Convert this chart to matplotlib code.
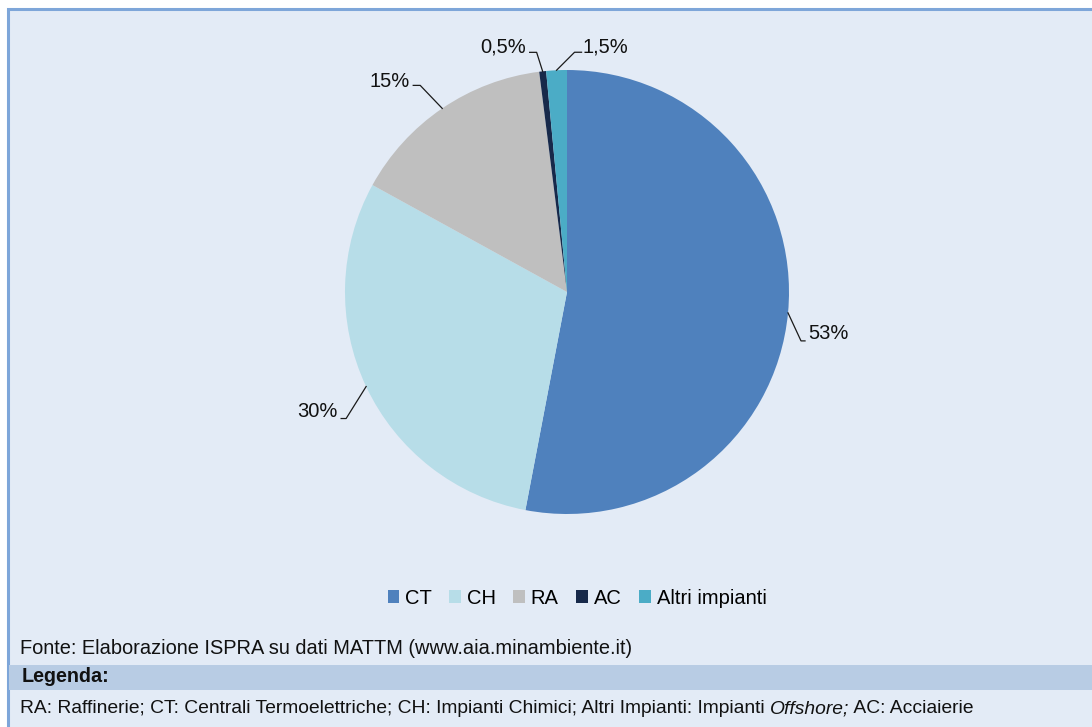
import numpy as np
import matplotlib.pyplot as plt
from matplotlib.patches import Rectangle

W, H = 1092, 727

# dati
categorie = ['CT', 'CH', 'RA', 'AC', 'Altri impianti']
valori = [53, 30, 15, 0.5, 1.5]
colori = ['#4F81BD', '#B7DDE8', '#BFBFBF', '#17294A', '#4BACC6']

fonte = 'Fonte: Elaborazione ISPRA su dati MATTM (www.aia.minambiente.it)'
legenda_titolo = 'Legenda:'
legenda_parti = [('RA: Raffinerie; CT: Centrali Termoelettriche; CH: Impianti Chimici; Altri Impianti: Impianti ', 'normal'),
                 ('Offshore;', 'italic'),
                 (' AC: Acciaierie', 'normal')]

# posizione delle etichette rispetto al bordo della fetta (px): gomito, fine linea, testo
offsets = [((13, -28), (17, -28), (20, -21), 'left'),
           ((-20, -32), (-25, -32), (-29, -25), 'right'),
           ((-22, 23), (-29, 23), (-32, 27), 'right'),
           ((-6, 19), (-13, 19), (-17, 24), 'right'),
           ((18, 18), (25, 18), (26, 23), 'left')]

plt.rcParams['font.family'] = ['Liberation Sans', 'DejaVu Sans']

fig = plt.figure(figsize=(W / 100, H / 100), dpi=100, facecolor='white')
ax = fig.add_axes([0, 0, 1, 1])

# sfondo e bordo
ax.add_patch(Rectangle((7.5, -5), W, H - 9 + 5, facecolor='#E3EBF6', edgecolor='#7EA6D9', lw=2.2, zorder=0))
ax.add_patch(Rectangle((9, H - 690), W, 25, facecolor='#B8CCE4', edgecolor='none', zorder=0.5))

cx, cy, R = 567, H - 292, 222
wedges, _ = ax.pie(valori, colors=colori, startangle=90, counterclock=False,
                   center=(cx, cy), radius=R, wedgeprops=dict(linewidth=0))

for w, v, (elb, end, tp, ha) in zip(wedges, valori, offsets):
    th = np.deg2rad((w.theta1 + w.theta2) / 2)
    ex, ey = cx + R * np.cos(th), cy + R * np.sin(th)
    ax.plot([ex, ex + elb[0], ex + end[0]], [ey, ey + elb[1], ey + end[1]],
            color='#1a1a1a', lw=0.9, zorder=3)
    lab = f'{v:g}'.replace('.', ',') + '%'
    ax.text(ex + tp[0], ey + tp[1], lab, ha=ha, va='center', fontsize=14.5, color='#111111')

ax.set_xlim(0, W)
ax.set_ylim(0, H)
ax.set_aspect('equal')
ax.axis('off')

# legenda
handles = [Rectangle((0, 0), 1, 1, facecolor=c, edgecolor='none') for c in colori]
fig.legend(handles, categorie, loc='center', bbox_to_anchor=(577 / W, 1 - 598 / H), ncol=5,
           frameon=False, fontsize=14.5, handlelength=0.58, handleheight=0.58,
           handletextpad=0.28, columnspacing=0.88, borderaxespad=0, borderpad=0)

# testi a pie' di pagina
fig.text(20 / W, 1 - 648 / H, fonte, fontsize=14.4, va='center', color='#111111')
fig.text(22 / W, 1 - 677 / H, legenda_titolo, fontsize=14.2, weight='bold', va='center', color='#111111')

r = fig.canvas.get_renderer()
x = 20
for s, st in legenda_parti:
    t = fig.text(x / W, 1 - 713 / H, s, style=st, fontsize=13.9, va='baseline', color='#111111')
    x += t.get_window_extent(r).width

fig.savefig('out.png', dpi=100, facecolor='white')
